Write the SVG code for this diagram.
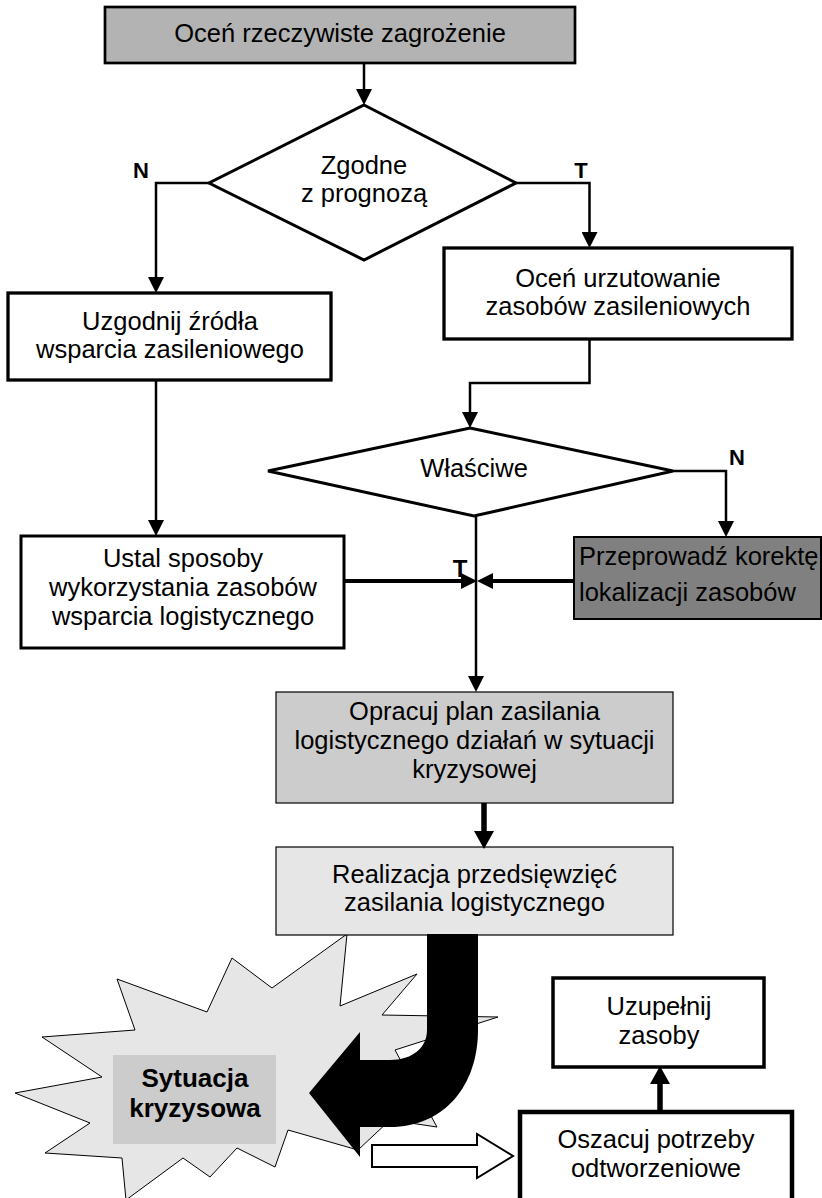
<svg xmlns="http://www.w3.org/2000/svg" width="822" height="1198" viewBox="0 0 822 1198">
<defs>
<style>
text{font-family:"Liberation Sans",Arial,sans-serif;font-size:25.5px;fill:#000;text-anchor:middle}
.lbl{font-weight:bold;font-size:22px}
.bold{font-weight:bold;font-size:26px}
.box{stroke:#000;fill:#fff}
.dia{stroke:#000;stroke-width:3;fill:#fff;stroke-linejoin:miter}
.ln{fill:none;stroke:#000;stroke-width:2.5}
.thk{fill:none;stroke:#000;stroke-width:4}
.thk2{fill:none;stroke:#000;stroke-width:5.5}
</style>
<marker id="ah" markerUnits="userSpaceOnUse" markerWidth="16" markerHeight="16" viewBox="0 0 16 16" refX="8" refY="8" orient="auto">
<path d="M0,0 L16,8 L0,16 Z" fill="#000"/>
</marker>
<marker id="ah2" markerUnits="userSpaceOnUse" markerWidth="18" markerHeight="20" viewBox="0 0 18 20" refX="8" refY="10" orient="auto">
<path d="M0,0 L18,10 L0,20 Z" fill="#000"/>
</marker>
</defs>
<rect width="822" height="1198" fill="#fff"/>

<g id="crisis">
<polygon points="347,934 340,1006 417,974 382,1015 498,1017 395,1050 437,1127 390,1120 358,1150 288,1130 275,1167 237,1148 210,1177 183,1158 126,1200 122,1158 45,1153 90,1123 15,1093 102,1077 42,1037 135,1030 117,979 207,1012 232,958 272,988" fill="#e6e6e6" stroke="#000" stroke-width="1"/>
<rect x="113" y="1055" width="163" height="89" fill="#cccccc"/>
<text class="bold" x="195" y="1087">Sytuacja</text>
<text class="bold" x="195" y="1117">kryzysowa</text>
</g>

<g id="n_ocen">
<rect x="105" y="7" width="470" height="56" fill="#b3b3b3" stroke="#000" stroke-width="2.7"/>
<text x="340" y="42">Oceń rzeczywiste zagrożenie</text>
</g>

<g id="d_zgodne">
<polygon class="dia" points="364,105 516,183 364,260 209,183"/>
<text x="364" y="174">Zgodne</text>
<text x="364" y="202">z prognozą</text>
</g>

<g id="n_uzgodnij">
<rect class="box" x="8" y="293" width="323" height="87" stroke-width="3.3"/>
<text x="170" y="330">Uzgodnij źródła</text>
<text x="170" y="358">wsparcia zasileniowego</text>
</g>

<g id="n_urzutowanie">
<rect class="box" x="444" y="248" width="348" height="91" stroke-width="3.3"/>
<text x="618" y="287">Oceń urzutowanie</text>
<text x="618" y="315">zasobów zasileniowych</text>
</g>

<g id="d_wlasciwe">
<polygon class="dia" points="470,428 673,471 474,516 268,471"/>
<text x="474" y="477">Właściwe</text>
</g>

<g id="n_ustal">
<rect class="box" x="21" y="536" width="323" height="112" stroke-width="3"/>
<text x="183" y="567">Ustal sposoby</text>
<text x="183" y="596">wykorzystania zasobów</text>
<text x="183" y="625">wsparcia logistycznego</text>
</g>

<g id="n_korekta">
<rect x="574" y="537" width="247" height="82" fill="#808080" stroke="#000" stroke-width="2"/>
<text x="579" y="565" style="text-anchor:start">Przeprowadź korektę</text>
<text x="579" y="601" style="text-anchor:start">lokalizacji zasobów</text>
</g>

<g id="n_opracuj">
<rect x="276" y="692" width="397" height="111" fill="#cccccc" stroke="#000" stroke-width="1.2"/>
<text x="474.5" y="720">Opracuj plan zasilania</text>
<text x="474.5" y="749">logistycznego działań w sytuacji</text>
<text x="474.5" y="778">kryzysowej</text>
</g>

<g id="n_realizacja">
<rect x="276" y="847" width="397" height="88" fill="#e6e6e6" stroke="#000" stroke-width="1.2"/>
<text x="474.5" y="883">Realizacja przedsięwzięć</text>
<text x="474.5" y="911">zasilania logistycznego</text>
</g>

<g id="n_uzupelnij">
<rect class="box" x="553" y="978" width="211" height="89" stroke-width="3.5"/>
<text x="659" y="1015">Uzupełnij</text>
<text x="659" y="1044">zasoby</text>
</g>

<g id="n_oszacuj">
<rect class="box" x="520" y="1112" width="272" height="100" stroke-width="4.5"/>
<text x="656" y="1148">Oszacuj potrzeby</text>
<text x="656" y="1177">odtworzeniowe</text>
</g>

<g id="connectors">
<line class="ln" x1="364" y1="63" x2="364" y2="97" marker-end="url(#ah)"/>
<polyline class="ln" points="209,183 156,183 156,285" marker-end="url(#ah)"/>
<polyline class="ln" points="516,183 589.5,183 589.5,240" marker-end="url(#ah)"/>
<polyline class="ln" points="589.5,339 589.5,383 470,383 470,420" marker-end="url(#ah)"/>
<polyline class="ln" points="673,471 726,471 726,529" marker-end="url(#ah)"/>
<line class="ln" x1="156" y1="380" x2="156" y2="528" marker-end="url(#ah)"/>
<line class="ln" x1="476" y1="516" x2="476" y2="684" marker-end="url(#ah)"/>
<line class="thk" x1="344" y1="581" x2="469" y2="581" marker-end="url(#ah)"/>
<line class="thk" x1="574" y1="581" x2="485" y2="581" marker-end="url(#ah)"/>
<line class="thk2" x1="484" y1="803" x2="484" y2="839" marker-end="url(#ah2)"/>
<line class="thk2" x1="660" y1="1112" x2="660" y2="1076" marker-end="url(#ah2)"/>
<path d="M427,934 L478,934 L478,1030 C478,1085 445,1127 390,1127 L360,1127 L360,1157 L309,1093 L360,1032 L360,1060 L390,1060 C412,1060 427,1048 427,1030 Z" fill="#000"/>
<polygon points="372,1145 477,1145 477,1134 513,1156 477,1178 477,1167 372,1167" fill="#fff" stroke="#000" stroke-width="2"/>
<text class="lbl" x="141" y="178">N</text>
<text class="lbl" x="581" y="178">T</text>
<text class="lbl" x="737" y="465">N</text>
<text class="lbl" x="460" y="577" style="font-size:24px">T</text>
</g>
</svg>
